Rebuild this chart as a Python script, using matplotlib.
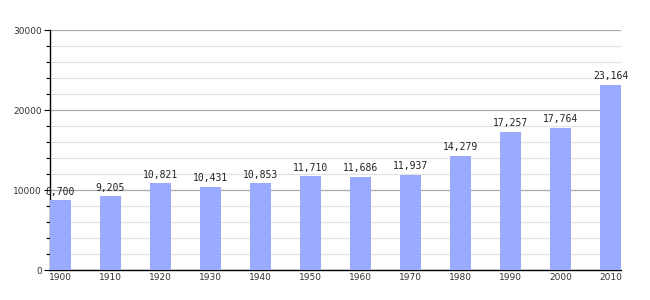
import matplotlib
matplotlib.use("Agg")
import matplotlib.pyplot as plt
from matplotlib.ticker import MultipleLocator

years = ["1900", "1910", "1920", "1930", "1940", "1950", "1960", "1970", "1980", "1990", "2000", "2010"]
population = [8700, 9205, 10821, 10431, 10853, 11710, 11686, 11937, 14279, 17257, 17764, 23164]
labels = ["8,700", "9,205", "10,821", "10,431", "10,853", "11,710", "11,686", "11,937", "14,279", "17,257", "17,764", "23,164"]

fig = plt.figure(figsize=(6.5, 3), dpi=100)
ax = fig.add_axes([50/650, 30/300, 571/650, 240/300])

x = list(range(len(years)))
ax.bar(x, population, width=0.42, color="#99aaff", zorder=3)
for xi, v, lab in zip(x, population, labels):
    ax.text(xi, v + 450, lab, ha="center", va="bottom", fontsize=7,
            family="DejaVu Sans Mono", color="#222222", zorder=4)

ax.set_xlim(-0.21, len(years) - 1 + 0.21)
ax.set_ylim(0, 30000)
ax.set_xticks(x)
ax.set_xticklabels(years, fontsize=6.5, color="#333333")
ax.yaxis.set_major_locator(MultipleLocator(10000))
ax.yaxis.set_minor_locator(MultipleLocator(2000))
ax.set_yticks([0, 10000, 20000, 30000])
ax.set_yticklabels(["0", "10000", "20000", "30000"], fontsize=6.5, color="#333333")
ax.tick_params(axis="x", length=0, pad=2.5)
ax.tick_params(axis="y", which="major", length=4, width=0.8, color="black", pad=2)
ax.tick_params(axis="y", which="minor", length=3, width=0.8, color="black")

ax.grid(axis="y", which="major", color="#aaaaaa", linewidth=0.9, zorder=1)
ax.grid(axis="y", which="minor", color="#e2e2e2", linewidth=0.9, zorder=1)

for s in ["top", "right"]:
    ax.spines[s].set_visible(False)
ax.spines["left"].set_color("black")
ax.spines["bottom"].set_color("black")
ax.spines["left"].set_linewidth(1)
ax.spines["bottom"].set_linewidth(1)

fig.savefig("out.png", dpi=100)
